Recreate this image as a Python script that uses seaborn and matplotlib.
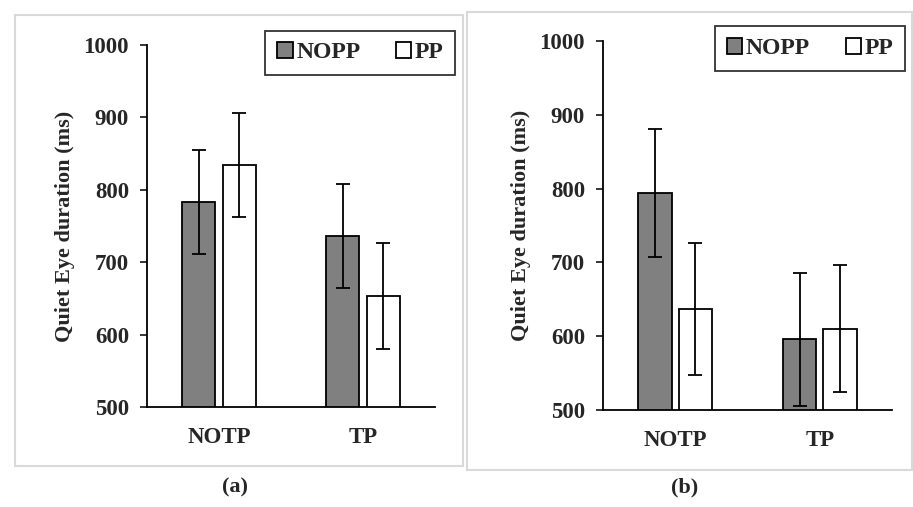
import matplotlib
matplotlib.use('Agg')
import matplotlib.pyplot as plt
import seaborn as sns
import pandas as pd
from matplotlib.patches import Rectangle

# dados
grupos = ['NOTP', 'TP']
condicoes = ['NOPP', 'PP']
# painel (a)
media_a_nopp = [783, 736]
media_a_pp = [834, 653]
dp_a_nopp = [72, 72]
dp_a_pp = [72, 73]
# painel (b)
media_b_nopp = [794, 596]
media_b_pp = [637, 610]
dp_b_nopp = [87, 90]
dp_b_pp = [89, 86]

sns.set_style('white')
plt.rcParams['font.family'] = ['Liberation Serif', 'DejaVu Serif']
plt.rcParams['font.weight'] = 'bold'

cores = {'NOPP': '#808080', 'PP': '#ffffff'}

fig = plt.figure(figsize=(9.13, 5.07), dpi=100)

# molduras cinza claras
fig.patches.append(Rectangle((15/913, 1-466/507), 448/913, 451/507, transform=fig.transFigure,
                             fill=False, edgecolor='#d9d9d9', linewidth=1.5))
fig.patches.append(Rectangle((467/913, 1-470/507), 445/913, 458/507, transform=fig.transFigure,
                             fill=False, edgecolor='#d9d9d9', linewidth=1.5))


def painel(ax, nopp, pp, err_nopp, err_pp, leg_pos):
    df = pd.DataFrame({'grupo': grupos * 2,
                       'cond': ['NOPP'] * 2 + ['PP'] * 2,
                       'valor': nopp + pp})
    sns.barplot(data=df, x='grupo', y='valor', hue='cond', order=grupos,
                hue_order=condicoes, palette=cores, width=0.56, gap=0.18,
                edgecolor='black', linewidth=1.3, errorbar=None, ax=ax)
    erros = {'NOPP': err_nopp, 'PP': err_pp}
    medias = {'NOPP': nopp, 'PP': pp}
    for cont, cond in zip(ax.containers, condicoes):
        xs = [b.get_x() + b.get_width() / 2 for b in cont]
        ax.errorbar(xs, medias[cond], yerr=erros[cond], fmt='none',
                    ecolor='black', elinewidth=1.3, capsize=5, capthick=1.3)
    ax.set_ylim(500, 1000)
    ax.set_xlim(-0.5, 1.5)
    ax.set_yticks(range(500, 1001, 100))
    ax.set_xlabel('')
    ax.set_ylabel('Quiet Eye duration (ms)', fontsize=16, fontweight='bold', labelpad=6)
    for s in ['top', 'right']:
        ax.spines[s].set_visible(False)
    for s in ['left', 'bottom']:
        ax.spines[s].set_color('black')
        ax.spines[s].set_linewidth(1.3)
    ax.tick_params(axis='y', which='major', left=True, length=5, width=1.3,
                   labelsize=16.5, pad=8)
    ax.tick_params(axis='x', bottom=False, labelsize=16.5, pad=11)
    for t in ax.get_xticklabels() + ax.get_yticklabels():
        t.set_fontweight('bold')
    leg = ax.legend(loc='upper right', bbox_to_anchor=leg_pos, ncol=2, frameon=True,
                    fancybox=False, edgecolor='black', fontsize=17,
                    handlelength=0.65, handleheight=0.65, handletextpad=0.15,
                    columnspacing=1.5, borderpad=0.5, borderaxespad=0)
    leg.get_frame().set_linewidth(1.3)
    for t in leg.get_texts():
        t.set_fontweight('bold')


ax1 = fig.add_axes([147/913, 1-407/507, 288/913, 362/507])
painel(ax1, media_a_nopp, media_a_pp, dp_a_nopp, dp_a_pp, (1.07, 1.04))

ax2 = fig.add_axes([603/913, 1-410/507, 289/913, 369/507])
painel(ax2, media_b_nopp, media_b_pp, dp_b_nopp, dp_b_pp, (1.045, 1.04))

fig.text(235/913, 1-487/507, '(a)', ha='center', va='center', fontsize=16)
fig.text(685/913, 1-487/507, '(b)', ha='center', va='center', fontsize=16)

fig.savefig('out.png', dpi=100)
